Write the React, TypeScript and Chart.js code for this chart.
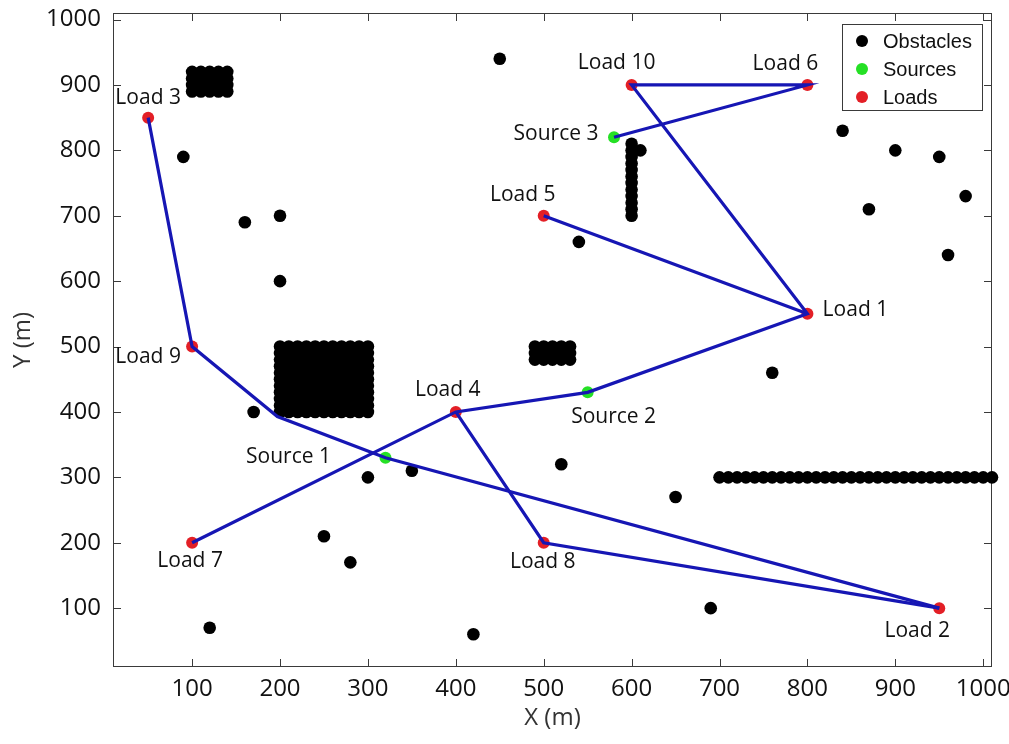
import React, { useEffect, useRef } from "react";
import { Chart, registerables } from "chart.js";

Chart.register(...registerables);

// Axis extents and ticks
const xRange = [10, 1010];
const yRange = [10, 1010];
const tickValues = [100, 200, 300, 400, 500, 600, 700, 800, 900, 1000];
const tickLabels = ["100", "200", "300", "400", "500", "600", "700", "800", "900", "1000"];

// Loads (red)
const loadNames = ["Load 1", "Load 2", "Load 3", "Load 4", "Load 5", "Load 6", "Load 7", "Load 8", "Load 9", "Load 10"];
const loadX = [800, 950, 50, 400, 500, 800, 100, 500, 100, 600];
const loadY = [550, 100, 850, 400, 700, 900, 200, 200, 500, 900];

// Sources (green)
const sourceNames = ["Source 1", "Source 2", "Source 3"];
const sourceX = [320, 550, 580];
const sourceY = [330, 430, 820];

// Single obstacles
const obstacleX = [450, 90, 160, 200, 200, 170, 300, 350, 250, 280, 120, 420, 520, 540, 650, 690, 760, 840, 870, 900, 950, 980, 960, 610];
const obstacleY = [940, 790, 690, 700, 600, 400, 300, 310, 210, 170, 70, 60, 320, 660, 270, 100, 460, 830, 710, 800, 790, 730, 640, 800];

// Obstacle blocks: column values x row values
const blockBigX = [200, 210, 220, 230, 240, 250, 260, 270, 280, 290, 300];
const blockBigY = [400, 410, 420, 430, 440, 450, 460, 470, 480, 490, 500];
const blockTopX = [100, 110, 120, 130, 140];
const blockTopY = [890, 900, 910, 920];
const blockMidX = [490, 500, 510, 520, 530];
const blockMidY = [480, 490, 500];
const wallVertX = [600];
const wallVertY = [700, 710, 720, 730, 740, 750, 760, 770, 780, 790, 800, 810];
const wallHorizX = [700, 710, 720, 730, 740, 750, 760, 770, 780, 790, 800, 810, 820, 830, 840, 850, 860, 870, 880, 890, 900, 910, 920, 930, 940, 950, 960, 970, 980, 990, 1000, 1010];
const wallHorizY = [300];

// Cable routes (x, y waypoints)
const routeAX = [50, 100, 197, 320, 950];
const routeAY = [850, 500, 393, 330, 100];
const routeBX = [100, 400, 550, 800, 600, 800, 580];
const routeBY = [200, 400, 430, 550, 900, 900, 820];
const routeCX = [400, 500, 950];
const routeCY = [400, 200, 100];
const routeDX = [500, 800];
const routeDY = [700, 550];

// Label placement (pixel offsets of text centre from the marker)
const loadLabelOffsets = [[48, -4], [-22, 23], [0, -20], [-8, -22], [-21, -21], [-22, -21], [-2, 18], [-1, 19], [-44, 10], [-15, -22]];
const sourceLabelOffsets = [[-97, -1], [26, 25], [-58, -3]];

const LINE_COLOR = "#1616b4";
const RED = "#e31f26";
const GREEN = "#25e025";
const TEXT_FONT = '"Open Sans", "Noto Sans", sans-serif';

const pts = (xs: number[], ys: number[]) => xs.map((x, i) => ({ x, y: ys[i] }));
const grid = (xs: number[], ys: number[]) => {
  const out: { x: number; y: number }[] = [];
  ys.forEach((y) => xs.forEach((x) => out.push({ x, y })));
  return out;
};

const overlay = {
  id: "overlay",
  beforeDatasetsDraw(chart: any) {
    const { ctx, chartArea: a, scales } = chart;
    const xs = scales.x;
    const ys = scales.y;
    ctx.save();
    ctx.strokeStyle = "#3a3a3a";
    ctx.lineWidth = 1;
    ctx.strokeRect(a.left + 0.5, a.top + 0.5, a.right - a.left - 1, a.bottom - a.top - 1);
    const tl = 8;
    ctx.beginPath();
    tickValues.forEach((v) => {
      const px = Math.round(xs.getPixelForValue(v)) + 0.5;
      ctx.moveTo(px, a.bottom);
      ctx.lineTo(px, a.bottom - tl);
      ctx.moveTo(px, a.top);
      ctx.lineTo(px, a.top + tl);
      const py = Math.round(ys.getPixelForValue(v)) + 0.5;
      ctx.moveTo(a.left, py);
      ctx.lineTo(a.left + tl, py);
      ctx.moveTo(a.right, py);
      ctx.lineTo(a.right - tl, py);
    });
    ctx.stroke();

    ctx.fillStyle = "#111";
    ctx.font = `24px ${TEXT_FONT}`;
    ctx.textBaseline = "middle";
    ctx.textAlign = "center";
    tickValues.forEach((v, i) => {
      ctx.fillText(tickLabels[i], xs.getPixelForValue(v), a.bottom + 22);
    });
    ctx.textAlign = "right";
    tickValues.forEach((v, i) => {
      ctx.fillText(tickLabels[i], a.left - 12, ys.getPixelForValue(v));
    });

    ctx.font = `24px ${TEXT_FONT}`;
    ctx.fillStyle = "#333";
    ctx.textAlign = "center";
    ctx.fillText("X (m)", (a.left + a.right) / 2, a.bottom + 51);
    ctx.save();
    ctx.translate(23, (a.top + a.bottom) / 2);
    ctx.rotate(-Math.PI / 2);
    ctx.fillText("Y (m)", 0, 0);
    ctx.restore();
    ctx.restore();
  },
  afterDatasetsDraw(chart: any) {
    const { ctx, scales } = chart;
    const xs = scales.x;
    const ys = scales.y;
    ctx.save();
    ctx.fillStyle = "#111";
    ctx.font = `21px ${TEXT_FONT}`;
    ctx.textAlign = "center";
    ctx.textBaseline = "middle";
    loadNames.forEach((n, i) => {
      const [dx, dy] = loadLabelOffsets[i];
      ctx.fillText(n, xs.getPixelForValue(loadX[i]) + dx, ys.getPixelForValue(loadY[i]) + dy);
    });
    sourceNames.forEach((n, i) => {
      const [dx, dy] = sourceLabelOffsets[i];
      ctx.fillText(n, xs.getPixelForValue(sourceX[i]) + dx, ys.getPixelForValue(sourceY[i]) + dy);
    });

    // legend
    const lx = 842, ly = 24, lw = 140, lh = 86;
    ctx.fillStyle = "#fff";
    ctx.fillRect(lx, ly, lw, lh);
    ctx.strokeStyle = "#3a3a3a";
    ctx.lineWidth = 1;
    ctx.strokeRect(lx + 0.5, ly + 0.5, lw, lh);
    const entries: [string, string, number][] = [
      ["Obstacles", "#000", 41],
      ["Sources", GREEN, 69],
      ["Loads", RED, 97],
    ];
    ctx.font = '20px "Liberation Sans", Arial, sans-serif';
    ctx.textAlign = "left";
    entries.forEach(([label, color, y]) => {
      ctx.fillStyle = color;
      ctx.beginPath();
      ctx.arc(862, y, 6, 0, Math.PI * 2);
      ctx.fill();
      ctx.fillStyle = "#111";
      ctx.fillText(label, 883, y + 1);
    });
    ctx.restore();
  },
};

export default function App() {
  const canvasRef = useRef<HTMLCanvasElement | null>(null);

  useEffect(() => {
    if (!canvasRef.current) return;
    const obstacles = [
      ...pts(obstacleX, obstacleY),
      ...grid(blockBigX, blockBigY),
      ...grid(blockTopX, blockTopY),
      ...grid(blockMidX, blockMidY),
      ...grid(wallVertX, wallVertY),
      ...grid(wallHorizX, wallHorizY),
    ];
    const route = (xs: number[], ys: number[]) => ({
      type: "line" as const,
      data: pts(xs, ys),
      showLine: true,
      borderColor: LINE_COLOR,
      borderWidth: 3.2,
      pointRadius: 0,
      fill: false,
      tension: 0,
      order: 0,
    });
    const chart = new Chart(canvasRef.current, {
      type: "scatter",
      data: {
        datasets: [
          route(routeAX, routeAY),
          route(routeBX, routeBY),
          route(routeCX, routeCY),
          route(routeDX, routeDY),
          {
            label: "Loads",
            data: pts(loadX, loadY),
            pointRadius: 6,
            pointBackgroundColor: RED,
            pointBorderWidth: 0,
            order: 1,
          },
          {
            label: "Sources",
            data: pts(sourceX, sourceY),
            pointRadius: 6,
            pointBackgroundColor: GREEN,
            pointBorderWidth: 0,
            order: 2,
          },
          {
            label: "Obstacles",
            data: obstacles,
            pointRadius: 6.3,
            pointBackgroundColor: "#000",
            pointBorderWidth: 0,
            clip: false,
            order: 3,
          },
        ] as any,
      },
      options: {
        animation: false,
        responsive: false,
        devicePixelRatio: 1,
        layout: { padding: { left: 113, right: 17, top: 13, bottom: 77 } },
        plugins: { legend: { display: false }, tooltip: { enabled: false } },
        scales: {
          x: { type: "linear", min: xRange[0], max: xRange[1], display: false },
          y: { type: "linear", min: yRange[0], max: yRange[1], display: false },
        },
      },
      plugins: [overlay],
    });
    return () => chart.destroy();
  }, []);

  return (
    <div style={{ position: "absolute", left: 0, top: 0, width: 1009, height: 744, background: "#fff" }}>
      <canvas ref={canvasRef} width={1009} height={744} />
    </div>
  );
}
